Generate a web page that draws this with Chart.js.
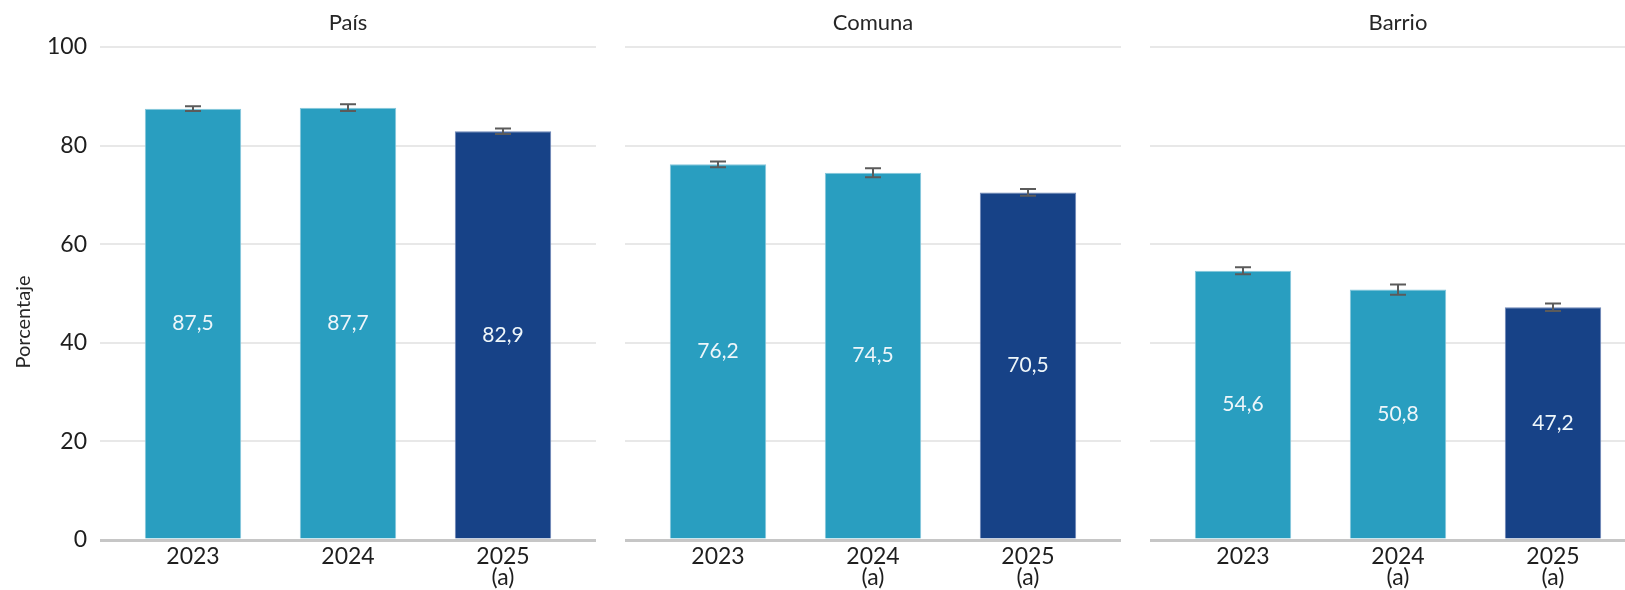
<!DOCTYPE html>
<html lang="es">
<head>
<meta charset="utf-8">
<title>Porcentaje por nivel territorial</title>
<script src="https://cdn.jsdelivr.net/npm/chart.js@4.4.1/dist/chart.umd.min.js"></script>
<style>
    html, body { margin: 0; padding: 0; background: #ffffff; width: 1625px; height: 590px; overflow: hidden; }
    .panel { position: absolute; top: 0; height: 590px; }
    #panel-pais { left: 0; width: 600px; }
    #panel-comuna { left: 625px; width: 496px; }
    #panel-barrio { left: 1150px; width: 496px; }
</style>
</head>
<body>
<div class="panel" id="panel-pais"><canvas id="chartPais"></canvas></div>
<div class="panel" id="panel-comuna"><canvas id="chartComuna"></canvas></div>
<div class="panel" id="panel-barrio"><canvas id="chartBarrio"></canvas></div>

<script>
// --- Data ---
const yTicks = [0, 20, 40, 60, 80, 100];

const paisLabels = ['2023', '2024', ['2025', '(a)']];
const paisValues = [87.5, 87.7, 82.9];
const paisError = [0.5, 0.7, 0.55];

const comunaLabels = ['2023', ['2024', '(a)'], ['2025', '(a)']];
const comunaValues = [76.2, 74.5, 70.5];
const comunaError = [0.57, 0.9, 0.68];

const barrioLabels = ['2023', ['2024', '(a)'], ['2025', '(a)']];
const barrioValues = [54.6, 50.8, 47.2];
const barrioError = [0.7, 1.05, 0.75];

const FONT = 'Lato';
const LIGHT = '#299ec0';
const DARK = '#174287';

// --- Plugins ---
const errorBars = {
    id: 'errorBars',
    afterDatasetsDraw(chart, args, opts) {
        const { ctx, scales: { y } } = chart;
        const values = chart.data.datasets[0].data;
        ctx.save();
        ctx.strokeStyle = '#5b5b5b';
        ctx.lineWidth = 2;
        chart.getDatasetMeta(0).data.forEach((bar, i) => {
            const v = values[i].y;
            const top = y.getPixelForValue(v + opts.margins[i]);
            const bottom = y.getPixelForValue(v - opts.margins[i]);
            ctx.beginPath();
            ctx.moveTo(bar.x, top); ctx.lineTo(bar.x, bottom);
            ctx.moveTo(bar.x - 8, top); ctx.lineTo(bar.x + 8, top);
            ctx.moveTo(bar.x - 8, bottom); ctx.lineTo(bar.x + 8, bottom);
            ctx.stroke();
        });
        ctx.restore();
    }
};

const valueLabels = {
    id: 'valueLabels',
    afterDatasetsDraw(chart) {
        const { ctx } = chart;
        const values = chart.data.datasets[0].data;
        ctx.save();
        ctx.font = `21px ${FONT}`;
        ctx.fillStyle = '#eef6fa';
        ctx.textAlign = 'center';
        ctx.textBaseline = 'middle';
        chart.getDatasetMeta(0).data.forEach((bar, i) => {
            const text = values[i].y.toFixed(1).replace('.', ',');
            ctx.fillText(text, bar.x, (bar.y + bar.base) / 2);
        });
        ctx.restore();
    }
};

const panelTitle = {
    id: 'panelTitle',
    afterDraw(chart, args, opts) {
        const { ctx, chartArea } = chart;
        ctx.save();
        ctx.font = `22px ${FONT}`;
        ctx.fillStyle = '#262626';
        ctx.textAlign = 'center';
        ctx.textBaseline = 'middle';
        ctx.fillText(opts.text, (chartArea.left + chartArea.right) / 2, 23);
        if (opts.yTitle) {
            ctx.translate(24, 322);
            ctx.rotate(-Math.PI / 2);
            ctx.font = `20px ${FONT}`;
            ctx.fillText(opts.yTitle, 0, 0);
        }
        ctx.restore();
    }
};

// --- Chart builder ---
function buildPanel(canvasId, title, tickLabels, values, errors, withAxis) {
    new Chart(document.getElementById(canvasId), {
        type: 'bar',
        data: {
            datasets: [{
                data: values.map((v, i) => ({ x: i, y: v })),
                backgroundColor: values.map((v, i) => i === values.length - 1 ? DARK : LIGHT),
                borderColor: values.map((v, i) => i === values.length - 1 ? '#6d85b6' : '#86c7dc'),
                borderWidth: 1,
                borderSkipped: 'bottom',
                categoryPercentage: 1,
                barPercentage: 0.622
            }]
        },
        plugins: [errorBars, valueLabels, panelTitle],
        options: {
            responsive: true,
            maintainAspectRatio: false,
            animation: false,
            layout: { padding: { top: 47, right: withAxis ? 4 : 0, bottom: 0, left: 0 } },
            plugins: {
                legend: { display: false },
                tooltip: { enabled: false },
                errorBars: { margins: errors },
                panelTitle: { text: title, yTitle: withAxis ? 'Porcentaje' : null }
            },
            scales: {
                x: {
                    type: 'linear',
                    min: -0.6,
                    max: 2.6,
                    offset: false,
                    grid: { display: false },
                    border: { display: false },
                    afterBuildTicks: (scale) => { scale.ticks = tickLabels.map((t, i) => ({ value: i })); },
                    afterFit: (scale) => { scale.height = 50; },
                    ticks: {
                        padding: -2,
                        color: '#1e1e1e',
                        font: { family: FONT, size: 23, lineHeight: 0.92 },
                        maxRotation: 0,
                        callback: (value) => tickLabels[value]
                    }
                },
                y: {
                    min: 0,
                    max: 100,
                    border: { display: false },
                    afterBuildTicks: (scale) => { scale.ticks = yTicks.map(v => ({ value: v })); },
                    afterFit: (scale) => { scale.width = withAxis ? 100 : 0; },
                    grid: {
                        drawTicks: false,
                        color: (c) => c.tick.value === 0 ? '#c6c6c6' : '#e8e8e8',
                        lineWidth: (c) => c.tick.value === 0 ? 3 : 2
                    },
                    ticks: {
                        display: withAxis,
                        padding: 13,
                        color: '#1e1e1e',
                        font: { family: FONT, size: 23 }
                    }
                }
            }
        }
    });
}

document.addEventListener('DOMContentLoaded', () => {
    buildPanel('chartPais', 'País', paisLabels, paisValues, paisError, true);
    buildPanel('chartComuna', 'Comuna', comunaLabels, comunaValues, comunaError, false);
    buildPanel('chartBarrio', 'Barrio', barrioLabels, barrioValues, barrioError, false);
});
</script>
</body>
</html>
